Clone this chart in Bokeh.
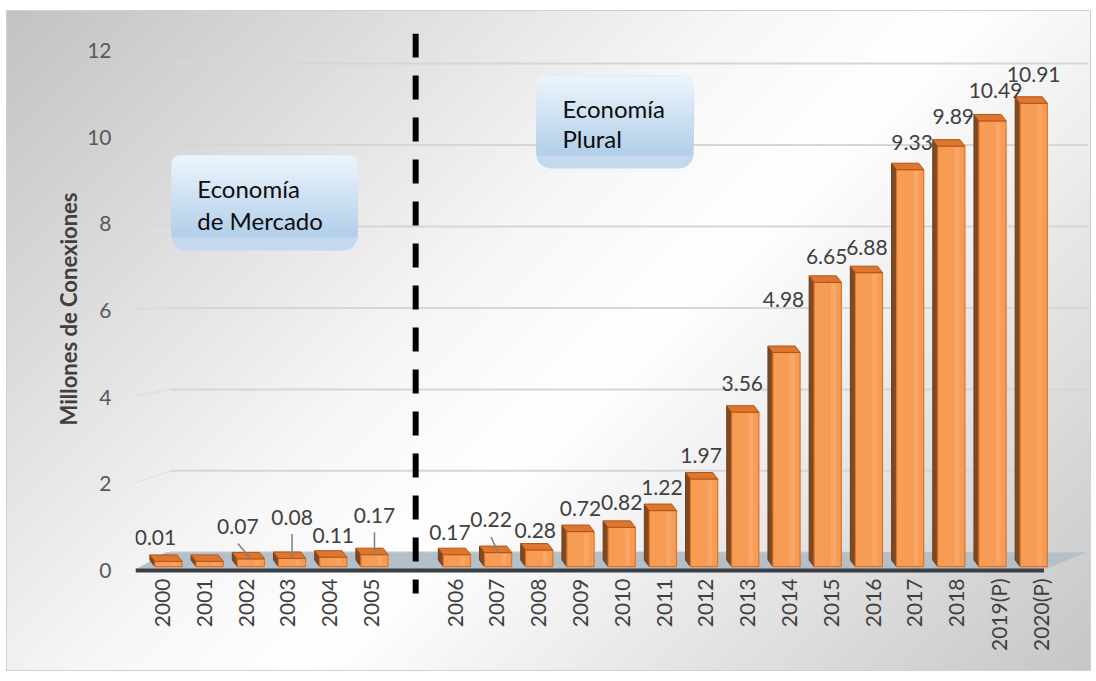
import math
from bokeh.plotting import figure
from bokeh.models import ColumnDataSource, FixedTicker, Range1d, BoxAnnotation, Label, Title
from bokeh.core.properties import value
from bokeh.embed import file_html
from bokeh.resources import INLINE

# ---------------- data ----------------
years = ["2000", "2001", "2002", "2003", "2004", "2005", "2006", "2007", "2008",
         "2009", "2010", "2011", "2012", "2013", "2014", "2015", "2016", "2017",
         "2018", "2019(P)", "2020(P)"]
connections = [0.01, 0.01, 0.07, 0.08, 0.11, 0.17, 0.17, 0.22, 0.28, 0.72, 0.82,
               1.22, 1.97, 3.56, 4.98, 6.65, 6.88, 9.33, 9.89, 10.49, 10.91]
value_labels = ["0.01", "", "0.07", "0.08", "0.11", "0.17", "0.17", "0.22", "0.28",
                "0.72", "0.82", "1.22", "1.97", "3.56", "4.98", "6.65", "6.88",
                "9.33", "9.89", "10.49", "10.91"]
y_ticks = [0, 2, 4, 6, 8, 10, 12]
y_title = "Millones de Conexiones"
period_texts = [["Economía", "de Mercado"], ["Economía", "Plural"]]

# ---------------- layout / style ----------------
GAP_INDEX = 6
slots = [i + (1 if i >= GAP_INDEX else 0) for i in range(len(years))]

W, H = 1083, 659
BL, BR, BT, BB = 128, 2, 22, 5
PXY = 43.33
X0, X1 = -0.80, 22.33
Y1 = 537 / PXY
Y0 = -95 / PXY
PXX = (W - BL - BR) / (X1 - X0)

# label nudges (pixels) and leader-line flags
label_dx = [-13, 0, -13, 0, 0, 0, -7, -7, -4, 0, 0, -1, -3, -3, -3, -1, -2, 2, 2, 3, 0]
label_dy = [-33, 0, -41, -50, -30, -48, -31, -41, -28, -31, -32, -30, -30, -33, -55,
            -26, -25, -24, -25, -25, -23]
leader = [False, False, True, True, False, True, False, True] + [False] * 13

# 3-D look
BASE = 0.09
FRONT_K, FRONT_B = 0.97, 0.20
CAP_H = 0.15
BAR_W = 0.66
DEPTH_X = 0.12
GRID_K, GRID_B = 0.94, 0.42
GRID_X = 0.05
TICK_SHIFT0, TICK_SHIFT_K = -6.0, 0.6
TICK_TOP = -8 / PXY
DIVIDER_TOP, DIVIDER_BOTTOM = 537 / PXY, -23 / PXY

FONT = "Lato"


def mix(c1, c2, t):
    a = [int(c1[i:i + 2], 16) for i in (1, 3, 5)]
    b = [int(c2[i:i + 2], 16) for i in (1, 3, 5)]
    return "#" + "".join("%02x" % round(a[k] + (b[k] - a[k]) * t) for k in range(3))


p = figure(width=W, height=H, output_backend="svg", toolbar_location=None,
           x_range=Range1d(X0, X1), y_range=Range1d(Y0, Y1),
           min_border_left=BL, min_border_right=BR, min_border_top=BT,
           min_border_bottom=BB)
p.margin = (11, 0, 0, 7)
p.styles = {
    "background": "linear-gradient(135deg, #c2c2c2 0%, #f6f6f6 42%, #ffffff 55%, #c6c6c6 100%)",
    "box-shadow": "0 0 0 1px #d0d0d0",
}
p.border_fill_color = None
p.background_fill_color = None
p.outline_line_color = None
p.xgrid.visible = False
p.ygrid.visible = False
p.xaxis.visible = False

# ---------------- gridlines (perspective) ----------------
grid_y = [GRID_B + GRID_K * t for t in y_ticks]
p.segment(x0=[GRID_X] * len(y_ticks), y0=grid_y, x1=[X1] * len(y_ticks), y1=grid_y,
          line_color="#d6d6d6", line_width=2)
p.segment(x0=[X0] * len(y_ticks), y0=[t + 0.03 for t in y_ticks],
          x1=[GRID_X] * len(y_ticks), y1=grid_y,
          line_color="#cfcfcf", line_width=1, line_dash="1 1")

# ---------------- floor ----------------
p.patch(x=[X0, -0.07, 22.3, 21.25], y=[0.02, GRID_B, GRID_B, 0.02],
        fill_color="#b3c0ca", line_color=None)
p.segment(x0=[X0], y0=[0], x1=[21.25], y1=[0], line_color="#3a3f44", line_width=4)

# ---------------- bars ----------------
front_top = [FRONT_B + FRONT_K * v for v in connections]
xl = [s - BAR_W / 2 for s in slots]
xr = [s + BAR_W / 2 for s in slots]

side_xs = [[a, a, a - DEPTH_X, a - DEPTH_X] for a in xl]
side_ys = [[BASE, ft, ft + CAP_H, BASE + CAP_H] for ft in front_top]
p.patches(xs=side_xs, ys=side_ys, fill_color="#7c4a25", line_color="#6a3d1d", line_width=1)

p.quad(left=xl, right=xr, bottom=[BASE] * len(slots), top=front_top,
       fill_color="#f69c55", line_color="#e2721c", line_width=1.2)
p.quad(left=[s + 0.08 for s in slots], right=[s + 0.2 for s in slots],
       bottom=[BASE + 0.03] * len(slots), top=[ft - 0.03 for ft in front_top],
       fill_color="#fbb07a", fill_alpha=0.5, line_color=None)

cap_xs = [[a, b, b - DEPTH_X, a - DEPTH_X] for a, b in zip(xl, xr)]
cap_ys = [[ft, ft, ft + CAP_H, ft + CAP_H] for ft in front_top]
p.patches(xs=cap_xs, ys=cap_ys, fill_color="#dc7630", line_color="#b5530f", line_width=1)

# ---------------- value labels ----------------
lab_src = ColumnDataSource(dict(x=slots, y=connections, text=value_labels,
                                dx=label_dx, dy=label_dy))
p.text(x="x", y="y", text="text", x_offset="dx", y_offset="dy", source=lab_src,
       text_font=value(FONT), text_font_size="21px", text_color="#404040",
       text_align="center", text_baseline="middle")

lx0, ly0, lx1, ly1 = [], [], [], []
for s, v, ft, dx, dy, flag in zip(slots, connections, front_top, label_dx, label_dy, leader):
    if flag:
        lx0.append(s + dx / PXX)
        ly0.append(v - (dy + 17) / PXY)
        lx1.append(s)
        ly1.append(ft)
p.segment(x0=lx0, y0=ly0, x1=lx1, y1=ly1, line_color="#7f7f7f", line_width=1.5)

# ---------------- category labels (rotated) ----------------
cat_x = [s + (TICK_SHIFT0 + TICK_SHIFT_K * s) / PXX for s in slots]
p.text(x=cat_x, y=[TICK_TOP] * len(slots), text=years, angle=math.pi / 2,
       text_font=value(FONT), text_font_size="21px", text_color="#404040",
       text_align="right", text_baseline="middle")

# ---------------- period boxes ----------------
boxes = [(0.07, 4.59, 9.58, 7.385), (8.93, 12.74, 11.42, 9.28)]
TOP_C, MID_C, BOT_C = "#eef5fc", "#b3cfea", "#c4d9ee"
fracs = [1.0] + [0.86 - 0.06 * k for k in range(14)]
for (l, r, t, b), lines in zip(boxes, period_texts):
    for frac in fracs:
        if frac <= 0.0:
            continue
        bot = t - (t - b) * frac
        if frac == 1.0:
            col, rad = BOT_C, 14
        else:
            col, rad = mix(TOP_C, MID_C, max(frac - 0.03, 0) / 0.83), (14, 14, 0, 0)
        p.add_layout(BoxAnnotation(left=l, right=r, top=t, bottom=bot, fill_color=col,
                                   fill_alpha=1.0, line_color=None, border_radius=rad))
    tx = l + 26 / PXX
    hgt = t - b
    for k, line in enumerate(lines):
        ty = t - hgt * (0.35 + 0.33 * k)
        p.add_layout(Label(x=tx, y=ty, text=line, text_font=FONT, text_font_size="24px",
                           text_color="#0d0d0d", text_baseline="middle"))

# ---------------- divider ----------------
p.segment(x0=[GAP_INDEX], y0=[DIVIDER_TOP], x1=[GAP_INDEX], y1=[DIVIDER_BOTTOM],
          line_color="black", line_width=6, line_dash="24 18")

# ---------------- y axis ----------------
p.yaxis.ticker = FixedTicker(ticks=y_ticks)
p.yaxis.axis_line_color = None
p.yaxis.major_tick_line_color = None
p.yaxis.minor_tick_line_color = None
p.yaxis.major_label_standoff = 18
p.yaxis.major_label_text_font = FONT
p.yaxis.major_label_text_font_size = "21px"
p.yaxis.major_label_text_color = "#595959"

p.add_layout(Title(text=y_title, align="left", offset=240, standoff=6,
                   text_font=FONT, text_font_size="22px", text_font_style="bold",
                   text_color="#404040"), "left")

open("out.html", "w").write(file_html(p, INLINE))
